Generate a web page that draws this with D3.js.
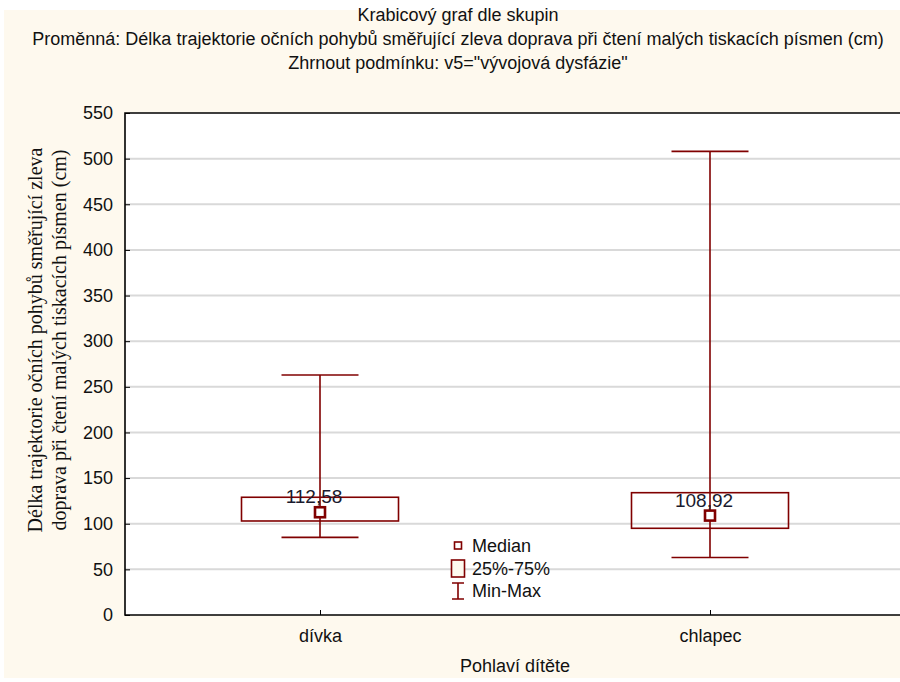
<!DOCTYPE html>
<html>
<meta charset="utf-8">
<head>
<title>Krabicový graf dle skupin</title>
<style>
  body { margin: 0; background: #fff; }
  svg { display: block; }
  text { font-family: "Liberation Sans Narrow", "Arial Narrow", "Liberation Sans", Arial, sans-serif; fill: #111; }
</style>
<script src="https://d3js.org/d3.v7.min.js"></script>
</head>
<body>
<svg></svg>
<script>

// data
var groups = ["dívka", "chlapec"];
var minVals = [85, 63];
var q1Vals = [103, 95];
var medians = [112.58, 108.92];
var q3Vals = [129, 134];
var maxVals = [263, 508];
var yTicks = [0, 50, 100, 150, 200, 250, 300, 350, 400, 450, 500, 550];

var titleLines = [
    "Krabicový graf dle skupin",
    "Proměnná: Délka trajektorie očních pohybů směřující zleva doprava při čtení malých tiskacích písmen (cm)",
    "Zhrnout podmínku: v5=\"vývojová dysfázie\""
];

var width = 900, height = 682;
var red = "#800000";

var svg = d3.select("svg")
    .attr("width", width)
    .attr("height", height);

// cream background
svg.append("rect")
    .attr("x", 4).attr("y", 10)
    .attr("width", width - 4).attr("height", height - 14)
    .attr("fill", "#fef9ee");

var pLeft = 125, pRight = 905, pTop = 113, pBottom = 615;

var y = d3.scaleLinear().domain([0, 550]).range([pBottom, pTop]);
var x = d3.scalePoint().domain(groups).range([pLeft, pRight]).padding(0.5);

// plot area
svg.append("rect")
    .attr("x", pLeft).attr("y", pTop)
    .attr("width", pRight - pLeft).attr("height", pBottom - pTop)
    .attr("fill", "#fff");

// gridlines
svg.append("g")
    .selectAll("line")
    .data(yTicks.filter(d => d > 0 && d < 550))
    .enter().append("line")
    .attr("x1", pLeft).attr("x2", pRight)
    .attr("y1", d => y(d)).attr("y2", d => y(d))
    .attr("stroke", "#d9d9d9")
    .attr("stroke-width", 2);

// frame
svg.append("path")
    .attr("d", "M" + pRight + "," + pTop + "H" + pLeft + "V" + pBottom + "H" + pRight)
    .attr("fill", "none")
    .attr("stroke", "#000")
    .attr("stroke-width", 1.6);

// y axis
var yAxis = svg.append("g")
    .attr("transform", "translate(" + pLeft + ",0)")
    .call(d3.axisLeft(y).tickValues(yTicks).tickSize(-5).tickPadding(12));
yAxis.select(".domain").remove();
yAxis.selectAll("line").attr("stroke", "#000");
yAxis.selectAll("text")
    .attr("font-size", 18)
    .attr("font-family", null)
    .style("fill", "#111");

// x axis
var xAxis = svg.append("g")
    .attr("transform", "translate(0," + pBottom + ")")
    .call(d3.axisBottom(x).tickSize(-5).tickPadding(14));
xAxis.select(".domain").remove();
xAxis.selectAll("line").attr("stroke", "#000");
xAxis.selectAll("text")
    .attr("font-size", 18)
    .attr("font-family", null)
    .style("fill", "#111");

// titles
svg.append("g")
    .selectAll("text")
    .data(titleLines)
    .enter().append("text")
    .attr("x", 458)
    .attr("y", (d, i) => 21 + i * 24)
    .attr("text-anchor", "middle")
    .attr("font-size", 18)
    .text(d => d);

svg.append("text")
    .attr("x", 515).attr("y", 672)
    .attr("text-anchor", "middle")
    .attr("font-size", 18)
    .text("Pohlaví dítěte");

// y title, serif, two lines
var yTitle = svg.append("text")
    .attr("transform", "translate(42,340) rotate(-90)")
    .attr("text-anchor", "middle")
    .style("font-family", "'Liberation Serif', 'Times New Roman', serif")
    .attr("font-size", 20);
yTitle.append("tspan").attr("x", 0).attr("dy", 0)
    .text("Délka trajektorie očních pohybů směřující zleva");
yTitle.append("tspan").attr("x", 0).attr("dy", 24)
    .text("doprava při čtení malých tiskacích písmen (cm)");

// boxes
var boxW = 157, capW = 77;
var box = svg.append("g").selectAll("g")
    .data(groups)
    .enter().append("g");

box.append("line")
    .attr("x1", d => x(d)).attr("x2", d => x(d))
    .attr("y1", (d, i) => y(maxVals[i]))
    .attr("y2", (d, i) => y(minVals[i]))
    .attr("stroke", red).attr("stroke-width", 1.6);

box.append("line")
    .attr("x1", d => x(d) - capW / 2).attr("x2", d => x(d) + capW / 2)
    .attr("y1", (d, i) => y(maxVals[i])).attr("y2", (d, i) => y(maxVals[i]))
    .attr("stroke", red).attr("stroke-width", 1.6);

box.append("line")
    .attr("x1", d => x(d) - capW / 2).attr("x2", d => x(d) + capW / 2)
    .attr("y1", (d, i) => y(minVals[i])).attr("y2", (d, i) => y(minVals[i]))
    .attr("stroke", red).attr("stroke-width", 1.6);

box.append("rect")
    .attr("x", d => x(d) - boxW / 2)
    .attr("y", (d, i) => y(q3Vals[i]))
    .attr("width", boxW)
    .attr("height", (d, i) => y(q1Vals[i]) - y(q3Vals[i]))
    .attr("fill", "none")
    .attr("stroke", red).attr("stroke-width", 1.6);

box.append("rect")
    .attr("x", d => x(d) - 5)
    .attr("y", (d, i) => y(medians[i]) - 5)
    .attr("width", 10).attr("height", 10)
    .attr("fill", "#fff")
    .attr("stroke", red).attr("stroke-width", 2.6);

box.append("text")
    .attr("x", d => x(d) - 6)
    .attr("y", (d, i) => y(medians[i]) - 9)
    .attr("text-anchor", "middle")
    .attr("font-size", 19)
    .style("fill", "#1a1a2e")
    .text((d, i) => medians[i].toFixed(2).replace(".", ","));

// legend
var lg = svg.append("g").attr("transform", "translate(458,0)");
lg.append("rect")
    .attr("x", -3.5).attr("y", 542).attr("width", 7).attr("height", 7)
    .attr("fill", "#fff").attr("stroke", red).attr("stroke-width", 1.6);
lg.append("rect")
    .attr("x", -6.5).attr("y", 560).attr("width", 13).attr("height", 17)
    .attr("fill", "#fef9ee").attr("stroke", red).attr("stroke-width", 1.6);
lg.append("path")
    .attr("d", "M-6,583H6M0,583V599M-6,599H6")
    .attr("fill", "none").attr("stroke", red).attr("stroke-width", 1.6);
lg.selectAll("text.lab")
    .data(["Median", "25%-75%", "Min-Max"])
    .enter().append("text")
    .attr("class", "lab")
    .attr("x", 14)
    .attr("y", (d, i) => 552 + i * 22.5)
    .attr("font-size", 18)
    .text(d => d);

</script>
</body>
</html>
